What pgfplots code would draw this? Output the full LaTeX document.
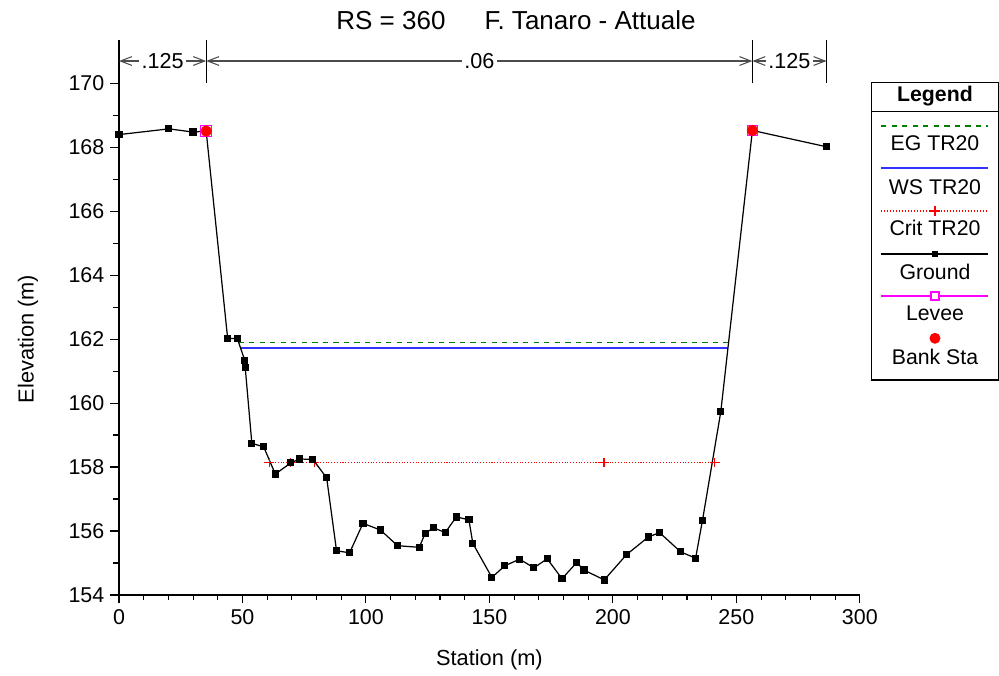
\documentclass[border=0pt]{standalone}
\usepackage{fontspec}
\setmainfont{Liberation Sans}
\usepackage{pgfplots}
\pgfplotsset{compat=1.18}
\usetikzlibrary{arrows.meta}
\definecolor{egreen}{HTML}{008000}
\definecolor{wsblue}{HTML}{3333FF}
\definecolor{levee}{HTML}{FF00FF}
\newcommand{\tkfont}{\fontsize{12.2}{14}\selectfont}
\newcommand{\lbfont}{\fontsize{12.4}{14}\selectfont}

\begin{document}
\begin{tikzpicture}
% pixel frame of the reference: (px,py) -> axis origin at (119,595)
\begin{scope}[x=0.02cm,y=-0.02cm,shift={(-119,-595)}]
\path[use as bounding box] (0,0) rectangle (999,675);
\end{scope}

\begin{axis}[
  at={(0,0)}, anchor=south west,
  scale only axis, width=14.82cm, height=10.24cm,
  xmin=0, xmax=300, ymin=154, ymax=170,
  axis x line*=bottom, axis y line*=left,
  axis line style={black, line width=0.6pt},
  tick align=outside,
  xtick={0,50,...,300}, minor x tick num=4,
  ytick={154,156,...,170}, minor y tick num=1,
  major tick length=0.17cm, minor tick length=0.11cm,
  tick style={black, line width=0.6pt},
  ticklabel style={font=\tkfont},
  /pgf/number format/assume math mode=true,
  /pgf/number format/1000 sep={},
  xlabel={Station (m)}, ylabel={Elevation (m)},
  label style={font=\lbfont},
  xlabel style={at={(axis description cs:0.5,-0.127)}, anchor=center},
  ylabel style={at={(axis description cs:-0.1228,0.5)}, anchor=center},
  clip=false,
]
% energy grade and water surface
\addplot[egreen, dashed, line width=0.6pt] coordinates {(48.4,161.90) (246.9,161.90)};
\addplot[wsblue, line width=0.8pt] coordinates {(49.2,161.72) (246.6,161.72)};
% critical depth
\addplot[red, densely dotted, line width=0.6pt, mark=+, mark size=2.8pt,
  mark options={solid}] coordinates {
  (60.9,158.14) (69.6,158.14) (79.1,158.14) (196.4,158.14) (241.3,158.14)};
% ground
\addplot[black, line width=0.7pt, mark=square*, mark size=1.7pt] coordinates {
  (0,168.39) (20.2,168.57) (30.0,168.47) (35.3,168.50)
  (44.0,162.02) (47.9,162.02) (50.9,161.34) (51.1,161.12)
  (53.8,158.74) (58.6,158.63) (63.3,157.78) (69.6,158.13)
  (73.0,158.25) (78.5,158.24) (84.1,157.66) (88.1,155.38)
  (93.4,155.32) (98.8,156.24) (105.9,156.03) (112.8,155.54)
  (121.6,155.49) (124.0,155.93) (127.4,156.10) (132.1,155.95)
  (136.6,156.44) (141.7,156.35) (143.3,155.61) (151.0,154.55)
  (156.2,154.91) (162.2,155.12) (168.0,154.85) (173.4,155.13)
  (179.4,154.51) (185.3,155.01) (188.3,154.78) (196.5,154.47)
  (205.5,155.26) (214.3,155.81) (218.9,155.95) (227.4,155.35)
  (233.5,155.15) (236.3,156.34) (243.7,159.73) (256.5,168.52)
  (286.5,168.01)};
% levee and bank stations
\addplot[only marks, levee, mark=square, mark size=3pt, line width=0.6pt] coordinates {
  (35.3,168.50) (256.5,168.52)};
\addplot[only marks, red, mark=*, mark size=3pt] coordinates {
  (35.3,168.50) (256.5,168.52)};

% Manning's n breaks
\draw[black, line width=0.6pt] (axis cs:0,170) -- (axis cs:0,171.35);
\draw[black, line width=0.6pt] (axis cs:35.3,170) -- (axis cs:35.3,171.35);
\draw[black, line width=0.6pt] (axis cs:256.5,170) -- (axis cs:256.5,171.35);
\draw[black, line width=0.6pt] (axis cs:286.5,170) -- (axis cs:286.5,171.35);
\tikzset{nar/.style={gray!60!black, line width=0.6pt,
  {Straight Barb[length=6.5pt,width=5pt]}-{Straight Barb[length=6.5pt,width=5pt]}}}
\draw[nar] (axis cs:0,170.69) -- node[fill=white, inner sep=1.5pt, text=black, font=\fontsize{12.3}{14}\selectfont] {.125} (axis cs:35.3,170.69);
\draw[nar] (axis cs:35.3,170.69) -- node[fill=white, inner sep=1.5pt, text=black, font=\fontsize{12.3}{14}\selectfont] {.06} (axis cs:256.5,170.69);
\draw[nar] (axis cs:256.5,170.69) -- node[fill=white, inner sep=1.5pt, text=black, font=\fontsize{12.3}{14}\selectfont] {.125} (axis cs:286.5,170.69);
\end{axis}

\begin{scope}[x=0.02cm,y=-0.02cm,shift={(-119,-595)}]
\node[font=\fontsize{14.8}{17}\selectfont] at (516,20) {RS = 360\hspace{1.5em}F. Tanaro - Attuale};
% legend
\draw[line width=0.6pt] (871.5,82.5) rectangle (998.5,380);
\draw[line width=0.6pt] (871.5,111.7) -- (998.5,111.7);
\tikzset{lt/.style={font=\fontsize{12.1}{14}\selectfont}}
\node[lt, font=\bfseries\fontsize{12.1}{14}\selectfont] at (935,96) {Legend};
\draw[draw=egreen, dashed, line width=0.8pt] (881,126) -- (988,126);
\node[lt] at (935,143.3) {EG TR20};
\draw[draw=wsblue, line width=1pt] (881,168) -- (988,168);
\node[lt] at (935,186.7) {WS TR20};
\draw[red, densely dotted, line width=0.7pt] (881,211) -- (988,211);
\draw[red, line width=0.6pt] (930,211) -- (940,211) (935,206) -- (935,216);
\node[lt] at (935,228.3) {Crit TR20};
\draw[black, line width=0.7pt] (881,254) -- (988,254);
\fill[black] (932,251) rectangle (938,257);
\node[lt] at (935,271.7) {Ground};
\draw[draw=levee, line width=0.8pt] (881,296) -- (988,296);
\draw[draw=levee, line width=0.6pt, fill=white] (931,292) rectangle (939,300);
\node[lt] at (935,313.3) {Levee};
\fill[red] (935,338.3) circle[radius=0.11cm];
\node[lt] at (935,356.7) {Bank Sta};
\end{scope}
\end{tikzpicture}
\end{document}
